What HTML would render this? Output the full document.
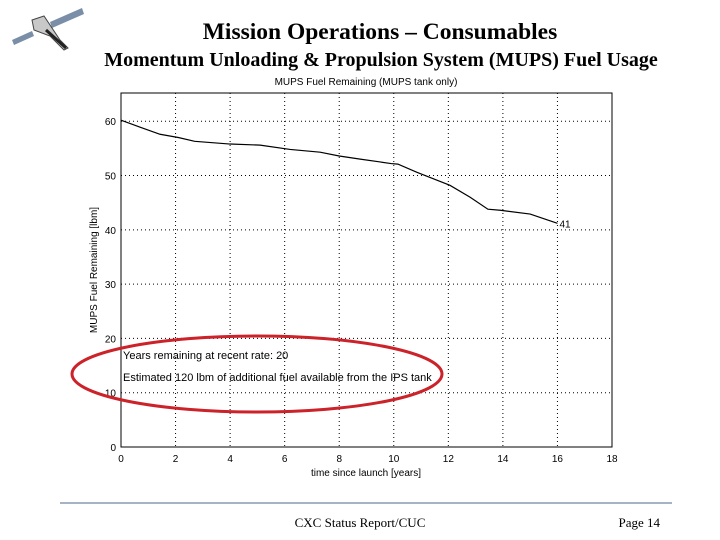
<!DOCTYPE html>
<html><head><meta charset="utf-8"><style>
body{margin:0;background:#fff;}
svg{display:block;}
</style></head><body>
<svg width="720" height="540" viewBox="0 0 720 540" xmlns="http://www.w3.org/2000/svg">
<g>
  <polygon points="12,40 32,31 34,36 14,45" fill="#7a8ea8"/>
  <polygon points="50,22 82,8 84,14 52,28" fill="#7a8ea8"/>
  <polygon points="32,20 44,16 60,40 68,48 64,50 50,36 34,30" fill="#c8c8c8" stroke="#444" stroke-width="1"/>
  <line x1="46" y1="30" x2="66" y2="48" stroke="#222" stroke-width="3"/>
</g>
<text x="380" y="39" text-anchor="middle" font-family="Liberation Serif, serif" font-size="23.5" font-weight="bold">Mission Operations – Consumables</text>
<text x="381" y="66" text-anchor="middle" font-family="Liberation Serif, serif" font-size="20" font-weight="bold">Momentum Unloading &amp; Propulsion System (MUPS) Fuel Usage</text>
<text x="366" y="85" text-anchor="middle" font-family="Liberation Sans, sans-serif" font-size="10">MUPS Fuel Remaining (MUPS tank only)</text>
<g id="chart"></g>
<ellipse cx="257" cy="374" rx="185" ry="38" fill="none" stroke="#cc2229" stroke-width="3"/>
<line x1="60" y1="503" x2="672" y2="503" stroke="#4a6a8a" stroke-width="1"/>
<text x="360" y="527" text-anchor="middle" font-family="Liberation Serif, serif" font-size="13">CXC Status Report/CUC</text>
<text x="660" y="527" text-anchor="end" font-family="Liberation Serif, serif" font-size="13">Page 14</text>
</svg>
<script>
const xTicks=[0,2,4,6,8,10,12,14,16,18];
const yTicks=[0,10,20,30,40,50,60];
const years=[0,0.7,1.43,2.1,2.7,4.0,5.1,6.2,7.3,8.0,8.8,9.5,9.9,10.15,10.85,12.06,12.8,13.45,13.9,15.0,16.0];
const fuel=[60.2,58.9,57.6,57.0,56.3,55.8,55.6,54.8,54.3,53.6,53.0,52.5,52.2,52.1,50.6,48.2,46.0,43.8,43.6,42.9,41.2];
const endLabel="41";
const note1="Years remaining at recent rate: 20";
const note2="Estimated 120 lbm of additional fuel available from the IPS tank";
const X0=121,X1=612,Y0=447,Y1=93,XMAX=18,YMAX=65.2;
const sx=v=>X0+(X1-X0)*v/XMAX, sy=v=>Y0-(Y0-Y1)*v/YMAX;
const NS="http://www.w3.org/2000/svg", g=document.getElementById('chart');
function mk(t,a,txt){const e=document.createElementNS(NS,t);for(const k in a)e.setAttribute(k,a[k]);if(txt!=null)e.textContent=txt;g.appendChild(e);return e;}
let e=mk('rect',{x:X0,y:Y1,width:X1-X0,height:Y0-Y1,fill:'#fff',stroke:'#000','stroke-width':1});


xTicks.forEach(v=>{
  if(v>0&&v<XMAX){const l=mk('line',{x1:sx(v),x2:sx(v),y1:Y1,y2:Y0,stroke:'#000','stroke-dasharray':'1,3'});
  
  }
  const t=mk('text',{x:sx(v),y:Y0+15,'text-anchor':'middle','font-family':'Liberation Sans, sans-serif','font-size':10},String(v));
  
  
});
yTicks.forEach(v=>{
  if(v>0){const l=mk('line',{x1:X0,x2:X1,y1:sy(v),y2:sy(v),stroke:'#000','stroke-dasharray':'1,3'});
  
  }
  const t=mk('text',{x:X0-5,y:sy(v)+4,'text-anchor':'end','font-family':'Liberation Sans, sans-serif','font-size':10},String(v));
  
  
});
let p=mk('polyline',{points:years.map((x,i)=>sx(x)+','+sy(fuel[i])).join(' '),fill:'none',stroke:'#000','stroke-width':1.2});


let n=years.length-1;
let lb=mk('text',{x:sx(years[n])+2,y:sy(fuel[n])+4,'font-family':'Liberation Sans, sans-serif','font-size':10},endLabel);


let t1=mk('text',{x:123,y:359,'font-family':'Liberation Sans, sans-serif','font-size':11},note1);


let t2=mk('text',{x:123,y:381,'font-family':'Liberation Sans, sans-serif','font-size':11},note2);


let xl=mk('text',{x:366,y:476,'text-anchor':'middle','font-family':'Liberation Sans, sans-serif','font-size':10},'time since launch [years]');


let yl=mk('text',{x:0,y:0,transform:'translate(97,270) rotate(-90)','text-anchor':'middle','font-family':'Liberation Sans, sans-serif','font-size':10},'MUPS Fuel Remaining [lbm]');


</script>
</body></html>
